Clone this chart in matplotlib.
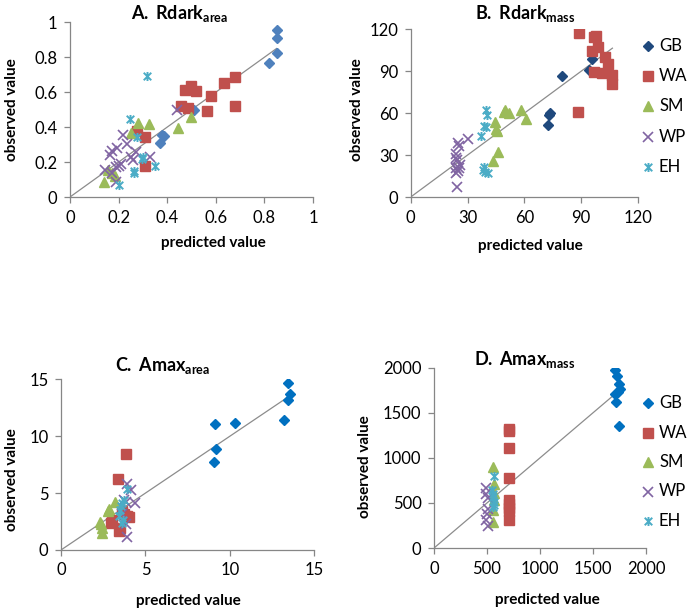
import matplotlib
matplotlib.use("Agg")
import matplotlib.pyplot as plt
from matplotlib.path import Path

plt.rcParams['font.family'] = ['Lato', 'DejaVu Sans']
plt.rcParams['mathtext.fontset'] = 'custom'
plt.rcParams['mathtext.rm'] = 'Lato'
plt.rcParams['mathtext.bf'] = 'Lato:bold'

groups = ['GB', 'WA', 'SM', 'WP', 'EH']

# ---- Panel A: Rdark_area ----
a_gb_x = [0.85, 0.85, 0.85, 0.82, 0.51, 0.38, 0.385, 0.37]
a_gb_y = [0.955, 0.91, 0.825, 0.765, 0.50, 0.355, 0.35, 0.31]
a_wa_x = [0.68, 0.635, 0.58, 0.50, 0.475, 0.52, 0.455, 0.485, 0.565, 0.68, 0.275, 0.31, 0.31]
a_wa_y = [0.685, 0.655, 0.58, 0.635, 0.615, 0.605, 0.52, 0.51, 0.495, 0.52, 0.38, 0.345, 0.175]
a_sm_x = [0.50, 0.445, 0.325, 0.28, 0.25, 0.14, 0.155, 0.185, 0.175]
a_sm_y = [0.46, 0.395, 0.42, 0.425, 0.365, 0.085, 0.155, 0.12, 0.14]
a_wp_x = [0.44, 0.22, 0.235, 0.195, 0.175, 0.165, 0.27, 0.25, 0.33, 0.21, 0.19, 0.145, 0.175, 0.19, 0.26, 0.20]
a_wp_y = [0.50, 0.355, 0.305, 0.28, 0.265, 0.24, 0.255, 0.23, 0.23, 0.19, 0.17, 0.155, 0.135, 0.085, 0.21, 0.18]
a_eh_x = [0.315, 0.245, 0.275, 0.295, 0.35, 0.265, 0.265, 0.20, 0.30]
a_eh_y = [0.695, 0.445, 0.345, 0.22, 0.18, 0.15, 0.14, 0.07, 0.23]
a_line = [0.0, 0.85]

# ---- Panel B: Rdark_mass ----
b_gb_x = [95.5, 94, 80, 73.5, 73, 72.5]
b_gb_y = [98.5, 91, 86.5, 60, 59, 51.5]
b_wa_x = [89, 97, 98, 99, 95.5, 102.5, 104, 97, 101, 106.5, 106.5, 88.5]
b_wa_y = [117.5, 114.5, 115.5, 107.5, 104.5, 100, 95.5, 89.5, 89, 87.5, 81, 61]
b_sm_x = [50, 52, 58, 61, 44.5, 45, 45.5, 46, 43.5, 49.5]
b_sm_y = [62, 60, 62.5, 55.5, 54, 49, 47, 32, 25.5, 60.5]
b_wp_x = [25, 25.5, 30.5, 24, 24.5, 26, 24, 24, 25, 24.5, 25.5, 24]
b_wp_y = [39, 36.5, 41.5, 31, 26.5, 23, 20.5, 17, 18.5, 7.5, 21, 28]
b_eh_x = [40, 40.5, 38.5, 39.5, 37, 38.5, 39, 41, 38]
b_eh_y = [62, 58.5, 51, 50, 43.5, 21.5, 18, 17, 19]
b_line = [0.0, 106.5]

# ---- Panel C: Amax_area ----
c_gb_x = [13.45, 13.55, 13.45, 13.2, 9.1, 10.3, 9.15, 9.05]
c_gb_y = [14.65, 13.75, 13.2, 11.45, 11.1, 11.2, 8.9, 7.75]
c_wa_x = [3.85, 3.35, 2.95, 3.0, 3.45, 3.5, 3.9, 3.75, 3.6, 4.0]
c_wa_y = [8.4, 6.2, 2.4, 2.65, 1.65, 1.9, 3.0, 3.2, 3.4, 2.9]
c_sm_x = [2.4, 2.4, 2.35, 2.3, 2.8, 2.85, 3.2]
c_sm_y = [1.5, 1.9, 2.3, 2.5, 3.4, 3.6, 4.2]
c_wp_x = [3.9, 4.15, 4.4, 3.85, 3.75, 3.9, 3.85, 3.6]
c_wp_y = [5.8, 5.3, 4.1, 4.25, 4.4, 1.1, 2.3, 3.2]
c_eh_x = [3.9, 3.6, 3.5, 3.45, 3.7, 3.6, 3.75, 3.55]
c_eh_y = [5.35, 4.15, 3.5, 2.95, 2.65, 2.35, 4.4, 3.9]
c_line = [0.0, 13.4]

# ---- Panel D: Amax_mass ----
d_gb_x = [1705, 1730, 1745, 1755, 1740, 1710, 1715, 1745]
d_gb_y = [1980, 1905, 1825, 1765, 1730, 1710, 1620, 1355]
d_wa_x = [705, 705, 705, 705, 705, 705, 705, 705, 705]
d_wa_y = [1320, 1295, 1105, 780, 530, 490, 440, 410, 315]
d_sm_x = [560, 565, 565, 565, 560, 560]
d_sm_y = [900, 715, 605, 530, 420, 290]
d_wp_x = [495, 490, 505, 505, 500, 495, 505]
d_wp_y = [665, 600, 560, 430, 380, 310, 240]
d_eh_x = [565, 550, 560, 570, 560, 565, 555]
d_eh_y = [800, 640, 570, 510, 455, 480, 600]
d_line = [0.0, 1710]

star = Path([(-1, -1), (1, 1), (-1, 1), (1, -1), (0, -1.2), (0, 1.2)],
            [Path.MOVETO, Path.LINETO, Path.MOVETO, Path.LINETO, Path.MOVETO, Path.LINETO])

RED = '#C0504D'
GREEN = '#9BBB59'
PURPLE = '#8064A2'
CYAN = '#4BACC6'
AXC = '#868686'


def styles(gb_color):
    return {
        'GB': dict(marker='D', color=gb_color, ms=5.2),
        'WA': dict(marker='s', color=RED, ms=6.5),
        'SM': dict(marker='^', color=GREEN, ms=7),
        'WP': dict(marker='x', color=PURPLE, ms=6.5, mew=1.2),
        'EH': dict(marker=star, color=CYAN, ms=6.5, mew=1.4),
    }


fig = plt.figure(figsize=(6.9, 6.13), dpi=100)

panels = [
    dict(rect=[0.1014, 0.6786, 0.3522, 0.2850], lim=1.0, ticks=[0, 0.2, 0.4, 0.6, 0.8, 1],
         labels=['0', '0.2', '0.4', '0.6', '0.8', '1'],
         data=[(a_gb_x, a_gb_y), (a_wa_x, a_wa_y), (a_sm_x, a_sm_y), (a_wp_x, a_wp_y), (a_eh_x, a_eh_y)],
         line=a_line, gb='#4F81BD', title=r'$\mathbf{A.\:Rdark_{area}}$', tpos=(180, 13),
         xl=(213, 243), yl=(12, 110), legend=False),
    dict(rect=[0.5952, 0.6786, 0.3294, 0.2736], lim=120, ticks=[0, 30, 60, 90, 120],
         labels=['0', '30', '60', '90', '120'],
         data=[(b_gb_x, b_gb_y), (b_wa_x, b_wa_y), (b_sm_x, b_sm_y), (b_wp_x, b_wp_y), (b_eh_x, b_eh_y)],
         line=b_line, gb='#1F497D', title=r'$\mathbf{B.\:Rdark_{mass}}$', tpos=(525, 14),
         xl=(530, 246), yl=(357, 110), legend=True, leg=(648, 46, 30.2)),
    dict(rect=[0.0884, 0.1028, 0.3671, 0.2784], lim=15, ticks=[0, 5, 10, 15],
         labels=['0', '5', '10', '15'],
         data=[(c_gb_x, c_gb_y), (c_wa_x, c_wa_y), (c_sm_x, c_sm_y), (c_wp_x, c_wp_y), (c_eh_x, c_eh_y)],
         line=c_line, gb='#0070C0', title=r'$\mathbf{C.\:Amax_{area}}$', tpos=(163, 366),
         xl=(188, 601), yl=(12, 480), legend=False),
    dict(rect=[0.6290, 0.1060, 0.3072, 0.2941], lim=2000, ticks=[0, 500, 1000, 1500, 2000],
         labels=['0', '500', '1000', '1500', '2000'],
         data=[(d_gb_x, d_gb_y), (d_wa_x, d_wa_y), (d_sm_x, d_sm_y), (d_wp_x, d_wp_y), (d_eh_x, d_eh_y)],
         line=d_line, gb='#0070C0', title=r'$\mathbf{D.\:Amax_{mass}}$', tpos=(525, 360),
         xl=(547, 600), yl=(365, 467), legend=True, leg=(648, 403, 29.5)),
]

W, H = 690.0, 613.0
for p in panels:
    ax = fig.add_axes(p['rect'])
    ax.set_xlim(0, p['lim'])
    ax.set_ylim(0, p['lim'])
    ax.plot(p['line'], p['line'], color='#8C8C8C', lw=0.9, zorder=1)
    st = styles(p['gb'])
    for g, (xs, ys) in zip(groups, p['data']):
        ax.plot(xs, ys, linestyle='none', zorder=3, **st[g])
    ax.set_xticks(p['ticks'])
    ax.set_yticks(p['ticks'])
    ax.set_xticklabels(p['labels'])
    ax.set_yticklabels(p['labels'])
    for s in ['top', 'right']:
        ax.spines[s].set_visible(False)
    for s in ['left', 'bottom']:
        ax.spines[s].set_color(AXC)
        ax.spines[s].set_linewidth(0.9)
    ax.tick_params(direction='out', length=4, width=0.9, color=AXC, labelsize=12,
                   labelcolor='#000000', pad=5)
    ax.patch.set_alpha(0)
    fig.text(p['tpos'][0] / W, 1 - p['tpos'][1] / H, p['title'], ha='center', va='center',
             fontsize=13)
    fig.text(p['xl'][0] / W, 1 - p['xl'][1] / H, 'predicted value', ha='center', va='center',
             fontsize=11, fontweight='bold')
    fig.text(p['yl'][0] / W, 1 - p['yl'][1] / H, 'observed value', ha='center', va='center',
             fontsize=11, fontweight='bold', rotation=90)
    if p['legend']:
        lx, ly, dy = p['leg']
        for i, g in enumerate(groups):
            yy = 1 - (ly + i * dy) / H
            fig.lines.append(plt.Line2D([lx / W], [yy], transform=fig.transFigure,
                                        linestyle='none', **st[g]))
            fig.text((lx + 11) / W, yy, g, ha='left', va='center', fontsize=12)

fig.savefig('out.png', dpi=100)
